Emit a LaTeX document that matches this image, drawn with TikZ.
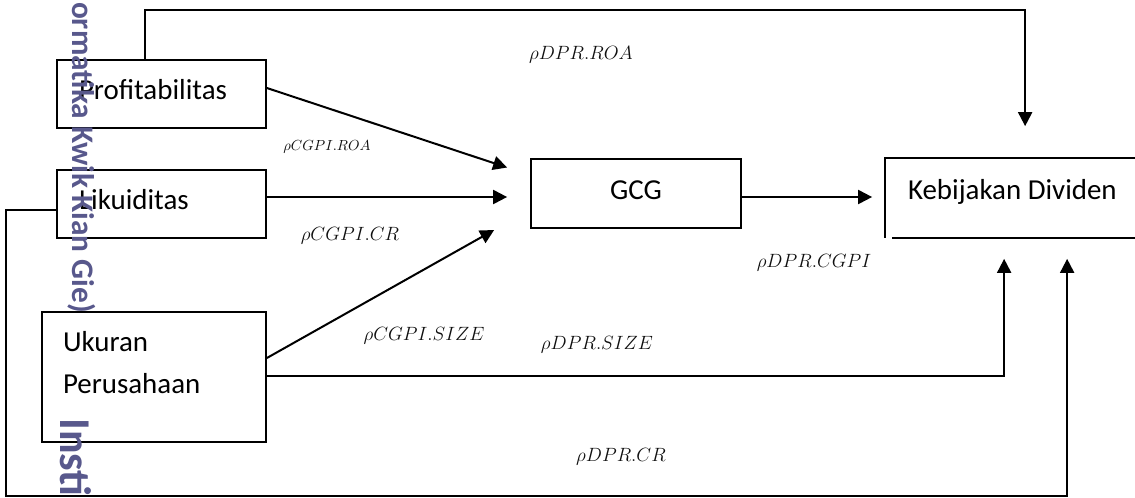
\documentclass[tikz,border=0pt]{standalone}
\usepackage{fontspec}
\newfontfamily\calibri{Carlito}
\usetikzlibrary{arrows.meta,calc}
\definecolor{wmark}{RGB}{88,88,140}
\definecolor{lbl}{RGB}{15,15,15}
\begin{document}
\begin{tikzpicture}[x=0.75pt,y=-0.75pt,
  box/.style={draw, line width=1.3pt, inner sep=0pt,
    font=\calibri\fontsize{21.7}{31.5}\selectfont,
    text height=15.2pt, text depth=6.5pt},
  arr/.style={line width=1.5pt, -{Triangle[length=10.5pt,width=10.5pt]}},
  coef/.style={font=\fontsize{14.4}{17}\selectfont, text=lbl, inner sep=0pt},
  coefs/.style={font=\fontsize{10.95}{13}\selectfont, text=lbl, inner sep=0pt},
  wm/.style={text=wmark, inner sep=0pt, rotate=-90}]
\useasboundingbox (0,0) rectangle (1135,497);

% variable boxes
\node[box, minimum width=156.75pt, minimum height=51pt] (prof) at (161.5,94)
  {\makebox[123.75pt][l]{Profitabilitas}};
\node[box, minimum width=156.75pt, minimum height=51pt] (liku) at (161.5,204)
  {\makebox[123.75pt][l]{Likuiditas}};
\node[box, minimum width=168pt, minimum height=97.5pt, text height={}, text depth={}] (ukur) at (154,377)
  {\makebox[136.5pt][l]{\begin{tabular}{@{}l@{}}Ukuran\\Perusahaan\\[-12pt]\mbox{}\end{tabular}}};
\node[box, minimum width=157.5pt, minimum height=51.75pt] (gcg) at (636,193.5) {GCG};
\node[box, draw=none, minimum width=198pt, minimum height=58.5pt, text depth=13.45pt] (kd) at (1018,198)
  {\makebox[165pt][l]{Kebijakan Dividen}};
% open outline of the dividend box
\draw[line width=1.3pt] (kd.north east) -- (kd.north west) -- (kd.south west);
\draw[line width=1.3pt] ($(kd.south west)+(7,0)$) -- (kd.south east);

% paths
\coordinate (kdtop) at ($(kd.north west)+(140,-32)$);
\draw[arr] ($(prof.north west)+(89,0)$) -- ++(0,-49) -| (kdtop);
\draw[arr] ($(prof.east)+(0,-6)$) -- ($(gcg.west)+(-23,-26)$);
\draw[arr] ($(liku.east)+(0,-7)$) -- ($(gcg.west)+(-23,3.5)$);
\draw[arr] ($(ukur.east)+(0,-19)$) -- ($(gcg.west)+(-36,36.5)$);
\draw[arr] ($(gcg.east)+(0,3.5)$) -- ($(kd.west)+(-13,-1)$);
\draw[arr] ($(ukur.east)+(0,-1)$) -| ($(kd.south west)+(119,21)$);
\draw[arr] ($(liku.west)+(0,6)$) -| ($(liku.west)+(-50,292)$) -| ($(kd.south west)+(182,21)$);

% path coefficients
\node[coef]  (l1) at (581,55)  {$\rho DPR.ROA$};
\node[coefs] (l2) at (327,147) {$\rho CGPI.ROA$};
\node[coef]  (l3) at (350,236) {$\rho CGPI.CR$};
\node[coef]  (l4) at (424,336) {$\rho CGPI.SIZE$};
\node[coef]  (l5) at (597,345) {$\rho DPR.SIZE$};
\node[coef]  (l6) at (814,263) {$\rho DPR.CGPI$};
\node[coef]  (l7) at (621,457) {$\rho DPR.CR$};

% watermark along the left edge
\node[wm, font=\calibri\bfseries\fontsize{23.5}{28}\selectfont, anchor=base east] (wm1) at (72,313)
  {ormatika Kwik Kian Gie)};
\node[wm, font=\calibri\bfseries\fontsize{33}{38}\selectfont, anchor=base west] (wm2) at (60,418)
  {Insti};
\end{tikzpicture}
\end{document}
